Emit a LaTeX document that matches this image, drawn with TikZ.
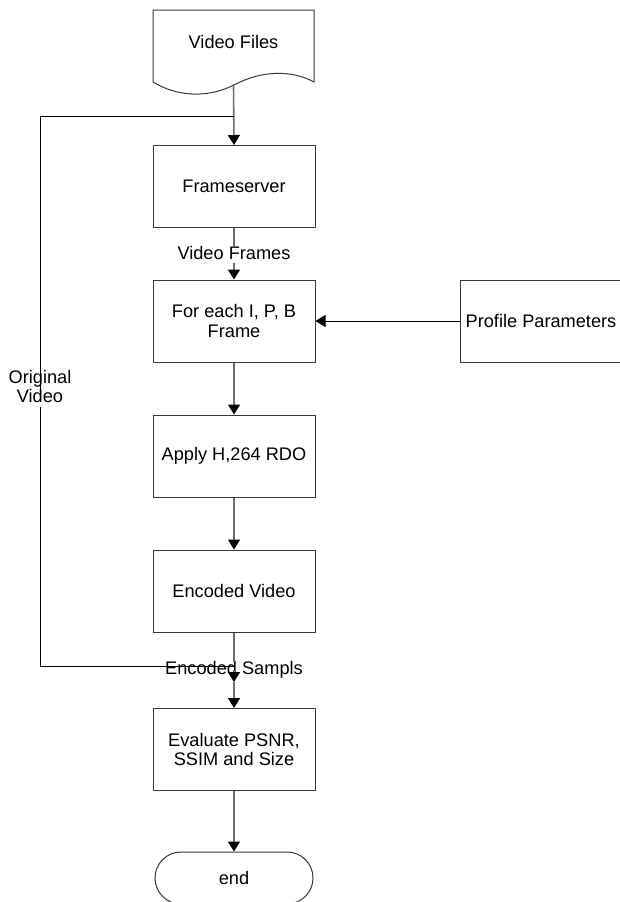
\documentclass[tikz,border=0pt]{standalone}
\usepackage{fontspec}
\setmainfont{Liberation Sans}
\usetikzlibrary{arrows.meta,shapes.misc}
\definecolor{boxc}{HTML}{3A3A3A}
\definecolor{flowc}{HTML}{6E6E6E}
\begin{document}
\begin{tikzpicture}[x=1pt,y=-1pt,
  txt/.style={font=\fontsize{18.2}{19.5}\selectfont},
  box/.style={txt, draw=boxc, line width=1pt, minimum width=162pt, minimum height=82pt, align=center, inner sep=2pt},
  flowline/.style={draw=flowc, line width=1.6pt},
  flow/.style={flowline, -{Triangle[length=10pt,width=12pt,color=black]}},
  thinline/.style={draw=black, line width=0.9pt},
  thinflow/.style={thinline, -{Triangle[length=10pt,width=12pt,color=black]}},
  lab/.style={txt, fill=white, inner sep=1pt, align=center}]
\useasboundingbox[fill=white] (0,0) rectangle (619,902);

% document shape
\node[minimum width=161pt, minimum height=74pt, inner sep=0pt] (files) at (233.5,47) {};
\draw[draw=boxc, line width=1pt, fill=white] (153,10) -- (314,10) -- (314,82)
  .. controls (292,70) and (262,70) .. (234,85)
  .. controls (206,99) and (176,96) .. (153,82) -- cycle;
\node[txt] at (233.5,42) {Video Files};

\node[box] (fs) at (234,186.5) {Frameserver};
\node[box] (fe) at (234,321) {For each I, P, B\\Frame};
\node[box] (pp) at (541,321) {Profile Parameters};
\node[box] (apply) at (234,456) {Apply H,264 RDO};
\node[box] (enc) at (234,591) {Encoded Video};
\node[box] (eval) at (234,749.5) {Evaluate PSNR,\\SSIM and Size};
\node[txt, draw=boxc, line width=1pt, rounded rectangle, minimum width=162pt, minimum height=52pt, inner sep=2pt] (end) at (234,878) {end};

% junction coordinates
\coordinate (j1) at (234,116);
\coordinate (c1) at (40,116);
\coordinate (c2) at (40,666);
\coordinate (j2) at (234,666);
\coordinate (jn) at (234,682);

% labels
\node[txt, inner sep=0pt, text height=12pt, text depth=3pt] (vfl) at (234,255) {Video Frames};
\node[txt, inner sep=1pt, align=center, text height=12pt, text depth=3pt] (ovl) at (40,398) {Original\\Video};
\node[txt, inner sep=0pt, text height=12pt, text depth=3pt] (encl) at (234,670) {Encoded Sampls};

% connectors
\draw[flow] (files.south) -- (fs.north);
\draw[flowline] (fs.south) -- (vfl.north);
\draw[flow] (vfl.south) -- (fe.north);
\draw[thinflow] (pp.west) -- (fe.east);
\draw[flow] (fe.south) -- (apply.north);
\draw[flow] (apply.south) -- (enc.north);
\draw[flowline] (enc.south) -- (encl.north);
\draw[flow] (encl.center) -- (jn);
\draw[flow] (jn) -- (eval.north);
\draw[flow] (eval.south) -- (end.north);

% original video loop
\draw[thinline] (j1) -- (c1) -- (ovl.north);
\draw[thinline] (ovl.south) -- (c2) -- (j2);
\end{tikzpicture}
\end{document}
